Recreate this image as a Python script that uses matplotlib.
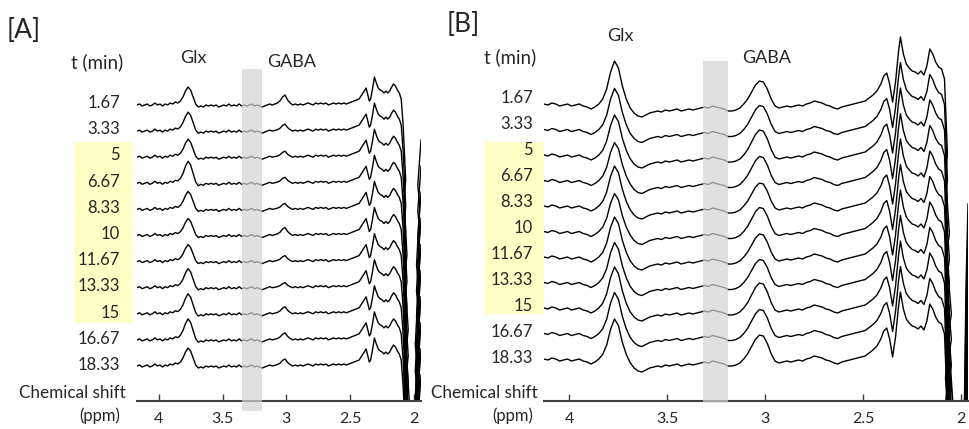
"""
Stacked MRS spectra (Glx / GABA) over time, two panels [A] and [B]
"""

import numpy as np
import matplotlib
matplotlib.use('Agg')
import matplotlib.pyplot as plt
from matplotlib.patches import Rectangle

plt.rcParams['font.family'] = ['Lato', 'DejaVu Sans']

# ---- data -------------------------------------------------------------
times = ['1.67', '3.33', '5', '6.67', '8.33', '10', '11.67', '13.33', '15', '16.67', '18.33']
ppm_ticks = [4, 3.5, 3, 2.5, 2]

# panel A: spectrum shape (ppm, amplitude)
ppm_a = [4.17, 4.15, 4.13, 4.11, 4.09, 4.07, 4.05, 4.03, 4.01, 3.99, 3.97, 3.95,
         3.93, 3.91, 3.89, 3.87, 3.85, 3.83, 3.81, 3.79, 3.77, 3.75, 3.73, 3.71,
         3.69, 3.67, 3.65, 3.63, 3.61, 3.59, 3.57, 3.55, 3.53, 3.51, 3.49, 3.47,
         3.45, 3.43, 3.41, 3.39, 3.37, 3.35, 3.33, 3.31, 3.29, 3.27, 3.25, 3.23,
         3.21, 3.19, 3.17, 3.15, 3.13, 3.11, 3.09, 3.07, 3.05, 3.03, 3.01, 2.99,
         2.97, 2.95, 2.93, 2.91, 2.89, 2.87, 2.85, 2.83, 2.81, 2.79, 2.77, 2.75,
         2.73, 2.71, 2.69, 2.67, 2.65, 2.63, 2.61, 2.59, 2.57, 2.55, 2.53, 2.51,
         2.49, 2.47, 2.45, 2.43, 2.41, 2.39, 2.375, 2.36, 2.35, 2.34, 2.325, 2.31,
         2.295, 2.28, 2.265, 2.25, 2.235, 2.22, 2.205, 2.19, 2.175, 2.16, 2.145,
         2.13, 2.115, 2.10, 2.085, 2.065, 2.078, 2.055, 2.072, 2.045, 2.062, 2.035,
         2.052, 2.02, 2.0, 1.985, 2.0, 1.975, 1.99, 1.965, 1.98, 1.955, 1.97, 1.945]
amp_a = [0, 1, -1, 0, 1, -1, 0, 2, 0, 1, -1, 1,
         0, 2, 1, 3, 2, 4, 8, 14, 18, 15, 8, 1,
         -2, -1, -2, 0, -1, 0, -1, 0, -2, -1, 0, -1,
         1, -1, 0, -1, 1, -1, 0, -1, 0, 1, -1, 0,
         -1, -2, -1, 0, 1, 0, 1, 2, 4, 8, 10, 5,
         2, 0, 1, 0, 1, 0, 1, 2, 1, 0, 2, 1,
         2, 1, 2, 0, 1, 2, 1, 2, 1, 2, 1, 2,
         3, 4, 5, 6, 10, 14, 17, 9, 4, 6, 16, 28,
         22, 17, 15, 14, 12, 14, 12, 14, 18, 21, 19,
         15, 12, 6, -20, -75, -95, -150, -170, -225, -245, -300,
         -320, -400, -420, -340, -320, -260, -240, -180, -160, -100, -80, -35]
glx_a = [18, 19, 18, 22, 18, 17, 17, 19, 20, 21, 18]
gaba_a = [10, 7, 6, 6, 6, 8, 6, 5, 7, 7, 7]

# panel B
ppm_b = [4.13, 4.11, 4.09, 4.07, 4.05, 4.03, 4.01, 3.99, 3.97, 3.95, 3.93, 3.91,
         3.89, 3.87, 3.85, 3.83, 3.81, 3.79, 3.77, 3.75, 3.73, 3.71, 3.69, 3.67,
         3.65, 3.63, 3.61, 3.59, 3.57, 3.55, 3.53, 3.51, 3.49, 3.47, 3.45, 3.43,
         3.41, 3.39, 3.37, 3.35, 3.33, 3.31, 3.29, 3.27, 3.25, 3.23, 3.21, 3.19,
         3.17, 3.15, 3.13, 3.11, 3.09, 3.07, 3.05, 3.03, 3.01, 2.99, 2.97, 2.95,
         2.93, 2.91, 2.89, 2.87, 2.85, 2.83, 2.81, 2.79, 2.77, 2.75, 2.73, 2.71,
         2.69, 2.67, 2.65, 2.63, 2.61, 2.59, 2.57, 2.55, 2.53, 2.51, 2.49, 2.47,
         2.45, 2.43, 2.41, 2.395, 2.38, 2.365, 2.35, 2.335, 2.32, 2.31, 2.295,
         2.28, 2.265, 2.25, 2.235, 2.22, 2.205, 2.19, 2.175, 2.16, 2.145, 2.13,
         2.115, 2.10, 2.085, 2.07, 2.08, 2.06, 2.075, 2.05, 2.065, 2.042,
         2.055, 2.035, 2.00, 1.99, 1.985, 1.975, 1.965]
amp_b = [0, -1, 1, 0, -2, -1, 0, -2, -1, 0, -2, -3,
         -5, -3, 0, 5, 15, 32, 43, 36, 18, 5, -4, -9,
         -12, -13, -11, -9, -8, -7, -8, -6, -7, -6, -5, -7,
         -6, -5, -6, -5, -4, -3, -4, -2, -3, -4, -5, -7,
         -7, -6, -4, 0, 5, 12, 19, 23, 22, 15, 5, -2,
         -4, -3, -2, -3, -2, -1, -2, 0, 1, 3, 2, 1,
         -1, -2, -4, -5, -3, -2, -1, 0, 1, 2, 3, 6,
         9, 13, 20, 28, 31, 20, 2, 22, 52, 67, 50,
         40, 36, 33, 32, 30, 33, 29, 38, 55, 50, 42,
         37, 35, 25, -50, -70, -130, -150, -210, -230, -300,
         -320, -400, -400, -300, -320, -180, -100]
glx_b = [43, 41, 40, 38, 40, 38, 40, 40, 41, 41, 40]
gaba_b = [23, 24, 25, 24, 23, 24, 23, 23, 25, 24, 24]


def px(x, y):
    """figure pixel -> figure fraction"""
    return x / 969, 1 - y / 429


def draw_panel(fig, left, right, ppm, amp, glx, gaba, xlim, top_base, step, band):
    ax = fig.add_axes([left / 969, 28 / 429, (right - left) / 969, 401 / 429])
    ax.set_xlim(*xlim)
    ax.set_ylim(0, 401)
    ppm = np.array(ppm)
    amp = np.array(amp, dtype=float)
    glx_win = (ppm > 3.68) & (ppm < 3.86)
    gaba_win = (ppm > 2.93) & (ppm < 3.12)
    for i in range(len(times)):
        y = amp.copy()
        y[glx_win] *= glx[i] / glx[0]
        y[gaba_win] *= gaba[i] / gaba[0]
        ax.plot(ppm, y + top_base - i * step, color='black', lw=1.0, zorder=2)
    # grey band over the traces
    ax.add_patch(Rectangle((band[0], band[2]), band[1] - band[0], band[3] - band[2],
                           facecolor='#d4d4d4', edgecolor='none', alpha=0.7,
                           zorder=3, clip_on=False))
    for s in ['top', 'left', 'right']:
        ax.spines[s].set_visible(False)
    ax.spines['bottom'].set_color('#404040')
    ax.spines['bottom'].set_linewidth(1.5)
    ax.set_yticks([])
    ax.set_xticks(ppm_ticks)
    ax.set_xticklabels([str(t) for t in ppm_ticks])
    ax.tick_params(axis='x', direction='in', length=5, width=1, color='#404040',
                   labelsize=11.5, labelcolor='#262626', pad=8)
    ax.patch.set_visible(False)
    return ax


fig = plt.figure(figsize=(9.69, 4.29), dpi=100)
tc = '#262626'

# yellow highlight boxes behind the time labels
for (x0, x1, y0, y1) in [(74, 133, 142, 323), (485, 544, 142, 314)]:
    fx0, fy1 = px(x0, y1)
    fx1, fy0 = px(x1, y0)
    fig.add_artist(Rectangle((fx0, fy1), fx1 - fx0, fy0 - fy1, transform=fig.transFigure,
                             facecolor='#ffffc6', edgecolor='none', zorder=0))

ax_a = draw_panel(fig, 137, 421, ppm_a, amp_a, glx_a, gaba_a, (4.17, 1.945),
                  296, 26.1, (3.35, 3.19, -10, 332))
ax_b = draw_panel(fig, 544, 968, ppm_b, amp_b, glx_b, gaba_b, (4.13, 1.965),
                  297, 25.5, (3.32, 3.19, -2, 340))

# time labels
for i, t in enumerate(times):
    fig.text(*px(120, 103 + 26.2 * i), t, ha='right', va='center', fontsize=12, color=tc)
    fig.text(*px(533, 98 + 26.0 * i), t, ha='right', va='center', fontsize=12, color=tc)

fig.text(*px(7, 30), '[A]', ha='left', va='center', fontsize=19, color=tc)
fig.text(*px(447, 25), '[B]', ha='left', va='center', fontsize=19, color=tc)
fig.text(*px(97, 62), 't (min)', ha='center', va='center', fontsize=13.5, color=tc)
fig.text(*px(510, 57), 't (min)', ha='center', va='center', fontsize=13.5, color=tc)
fig.text(*px(193, 58), 'Glx', ha='center', va='center', fontsize=13, color=tc)
fig.text(*px(292, 62), 'GABA', ha='center', va='center', fontsize=13, color=tc)
fig.text(*px(620, 36), 'Glx', ha='center', va='center', fontsize=13, color=tc)
fig.text(*px(767, 58), 'GABA', ha='center', va='center', fontsize=13, color=tc)
fig.text(*px(126, 393), 'Chemical shift', ha='right', va='center', fontsize=12.3, color=tc)
fig.text(*px(120, 416), '(ppm)', ha='right', va='center', fontsize=12, color=tc)
fig.text(*px(538, 393), 'Chemical shift', ha='right', va='center', fontsize=12.3, color=tc)
fig.text(*px(533, 416), '(ppm)', ha='right', va='center', fontsize=12, color=tc)

fig.savefig('out.png', dpi=100)
